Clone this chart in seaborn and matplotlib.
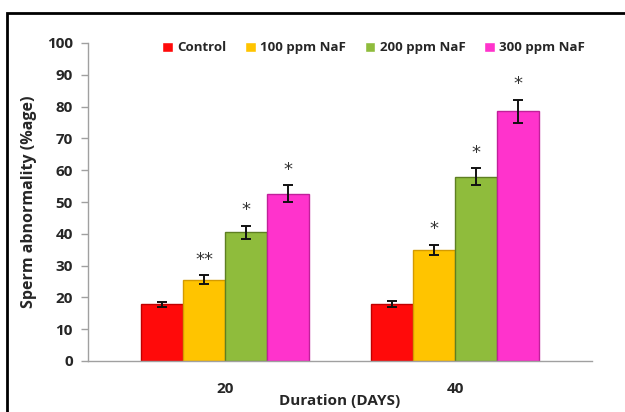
import matplotlib
matplotlib.use("Agg")
import matplotlib.pyplot as plt
import seaborn as sns
import pandas as pd
from matplotlib.patches import Rectangle

days = ["20", "40"]
groups = ["Control", "100 ppm NaF", "200 ppm NaF", "300 ppm NaF"]
means = {
    "Control": [17.8, 18.0],
    "100 ppm NaF": [25.6, 35.0],
    "200 ppm NaF": [40.5, 58.0],
    "300 ppm NaF": [52.6, 78.6],
}
errors = {
    "Control": [0.8, 1.0],
    "100 ppm NaF": [1.3, 1.6],
    "200 ppm NaF": [2.1, 2.7],
    "300 ppm NaF": [2.6, 3.6],
}
stars = {
    "Control": ["", ""],
    "100 ppm NaF": ["**", "*"],
    "200 ppm NaF": ["*", "*"],
    "300 ppm NaF": ["*", "*"],
}
colors = ["#FF0A0A", "#FFC400", "#8FBC3C", "#FF33CC"]
edges = ["#C00000", "#D49A00", "#5E7F22", "#C0209A"]

rows = []
for g in groups:
    for d, v in zip(days, means[g]):
        rows.append({"Duration": d, "Group": g, "Value": v})
df = pd.DataFrame(rows)

sns.set_theme(style="white")
plt.rcParams["font.family"] = ["Open Sans", "DejaVu Sans"]

fig = plt.figure(figsize=(6.25, 4.12), dpi=100)
ax = fig.add_axes([88/625, 1-361/412, 504/625, 318/412])

sns.barplot(data=df, x="Duration", y="Value", hue="Group", order=days,
            hue_order=groups, palette=colors, width=0.73, errorbar=None,
            ax=ax, saturation=1, legend=True)

for cont, g, ec in zip(ax.containers, groups, edges):
    for bar, m, e, s in zip(cont.patches, means[g], errors[g], stars[g]):
        bar.set_edgecolor(ec)
        bar.set_linewidth(1.0)
        cx = bar.get_x() + bar.get_width()/2
        ax.errorbar(cx, m, yerr=e, fmt="none", ecolor="#111111",
                    elinewidth=1.4, capsize=3.5, capthick=1.4, zorder=5)
        if s:
            ax.text(cx, m + e + 2.0, s, ha="center", va="bottom",
                    fontsize=13, color="#333333", family="DejaVu Sans")

ax.set_ylim(0, 100)
ax.set_yticks(range(0, 101, 10))
ax.set_xlim(-0.596, 1.596)
ax.set_ylabel("Sperm abnormality (%age)", fontsize=11.5, fontweight="bold", labelpad=7)
ax.set_xlabel("Duration (DAYS)", fontsize=11, fontweight="bold", labelpad=-1)
ax.tick_params(axis="y", which="both", left=True, length=5, width=1,
               color="#A0A0A0", labelsize=11, pad=6)
ax.tick_params(axis="x", bottom=False, labelsize=11, pad=9)
for lab in ax.get_yticklabels() + ax.get_xticklabels():
    lab.set_fontweight("bold")
for side in ["top", "right"]:
    ax.spines[side].set_visible(False)
for side in ["left", "bottom"]:
    ax.spines[side].set_color("#A0A0A0")
    ax.spines[side].set_linewidth(1)

ax.legend(loc="center", bbox_to_anchor=(0.567, 0.985), ncol=4, frameon=False,
          handlelength=0.8, handleheight=0.8, columnspacing=1.4,
          handletextpad=0.35, prop={"size": 9.5, "weight": "bold"})

fig.patches.append(Rectangle((7/625, -0.1), 1.2, 1 - 13/412 + 0.1,
                             transform=fig.transFigure, fill=False,
                             edgecolor="black", linewidth=2))

fig.savefig("out.png", dpi=100)
